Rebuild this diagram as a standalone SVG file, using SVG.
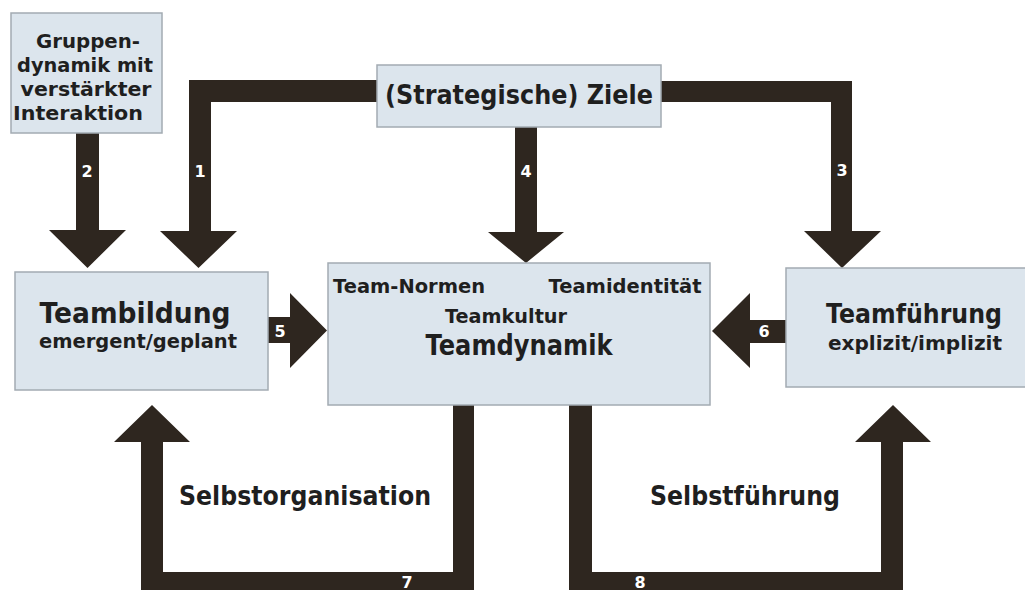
<svg xmlns="http://www.w3.org/2000/svg" width="1025" height="590" viewBox="0 0 1025 590">
<style>
.box{fill:#dce5ed;stroke:#a3abb2;stroke-width:1.5}
.arr{fill:#2e261f}
.t{font-family:"DejaVu Sans","Liberation Sans",sans-serif;font-weight:bold;fill:#1f1f1f;text-anchor:middle}
.n{font-family:"DejaVu Sans","Liberation Sans",sans-serif;font-weight:bold;fill:#ffffff;text-anchor:middle;font-size:16px}
</style>
<rect width="1025" height="590" fill="#ffffff"/>
<g id="connectors">
  <path class="arr" d="M211 102 H377 V80 H189 V231 H160 L198.5 268 L237 231 H211 Z"/>
  <path class="arr" d="M76 133 V230 H49 L87.5 268 L126 230 H99 V133 Z"/>
  <path class="arr" d="M661 81 H852 V231 H881 L842 268 L804 231 H831 V102 H661 Z"/>
  <path class="arr" d="M515 127 V232 H488 L526 263 L564 232 H537 V127 Z"/>
  <path class="arr" d="M268 317 H290 V293 L327 330.5 L290 368 V343 H268 Z"/>
  <path class="arr" d="M786 320 H750 V293 L712 331 L750 368 V343 H786 Z"/>
  <path class="arr" d="M453 405 V572 H163 V442 H190 L152 405 L114 442 H141 V595 H474 V405 Z"/>
  <path class="arr" d="M569 405 V595 H903 V442 H931 L893 405 L855 442 H881 V572 H592 V405 Z"/>
  <text class="n" x="87" y="177">2</text>
  <text class="n" x="200" y="177">1</text>
  <text class="n" x="526" y="177">4</text>
  <text class="n" x="842" y="176">3</text>
  <text class="n" x="280" y="337">5</text>
  <text class="n" x="764" y="337">6</text>
  <text class="n" x="407" y="588" font-size="15">7</text>
  <text class="n" x="640" y="588" font-size="15">8</text>
  <text class="t" x="305" y="505" font-size="27" textLength="252" lengthAdjust="spacingAndGlyphs">Selbstorganisation</text>
  <text class="t" x="745" y="505" font-size="27" textLength="190" lengthAdjust="spacingAndGlyphs">Selbstführung</text>
</g>
<g id="node-gruppendynamik">
  <rect class="box" x="11" y="13" width="151" height="120"/>
  <text class="t" x="88" y="48" font-size="20" textLength="104" lengthAdjust="spacingAndGlyphs">Gruppen-</text>
  <text class="t" x="85" y="72" font-size="20" textLength="136" lengthAdjust="spacingAndGlyphs">dynamik mit</text>
  <text class="t" x="86" y="96" font-size="20" textLength="131" lengthAdjust="spacingAndGlyphs">verstärkter</text>
  <text class="t" x="78" y="120" font-size="20" textLength="130" lengthAdjust="spacingAndGlyphs">Interaktion</text>
</g>
<g id="node-ziele">
  <rect class="box" x="377" y="65" width="284" height="62"/>
  <text class="t" x="519" y="104" font-size="27" textLength="268" lengthAdjust="spacingAndGlyphs">(Strategische) Ziele</text>
</g>
<g id="node-teambildung">
  <rect class="box" x="15" y="272" width="253" height="118"/>
  <text class="t" x="135" y="323" font-size="28" textLength="191" lengthAdjust="spacingAndGlyphs">Teambildung</text>
  <text class="t" x="138" y="348" font-size="20" textLength="198" lengthAdjust="spacingAndGlyphs">emergent/geplant</text>
</g>
<g id="node-teamdynamik">
  <rect class="box" x="328" y="263" width="382" height="142"/>
  <text class="t" x="409" y="293" font-size="20" textLength="152" lengthAdjust="spacingAndGlyphs">Team-Normen</text>
  <text class="t" x="625" y="293" font-size="20" textLength="153" lengthAdjust="spacingAndGlyphs">Teamidentität</text>
  <text class="t" x="506" y="323" font-size="20" textLength="122" lengthAdjust="spacingAndGlyphs">Teamkultur</text>
  <text class="t" x="519" y="355" font-size="28" textLength="187" lengthAdjust="spacingAndGlyphs">Teamdynamik</text>
</g>
<g id="node-teamfuehrung">
  <rect class="box" x="786" y="268" width="250" height="119"/>
  <text class="t" x="914" y="323" font-size="27" textLength="176" lengthAdjust="spacingAndGlyphs">Teamführung</text>
  <text class="t" x="915" y="350" font-size="20" textLength="174" lengthAdjust="spacingAndGlyphs">explizit/implizit</text>
</g>
</svg>
